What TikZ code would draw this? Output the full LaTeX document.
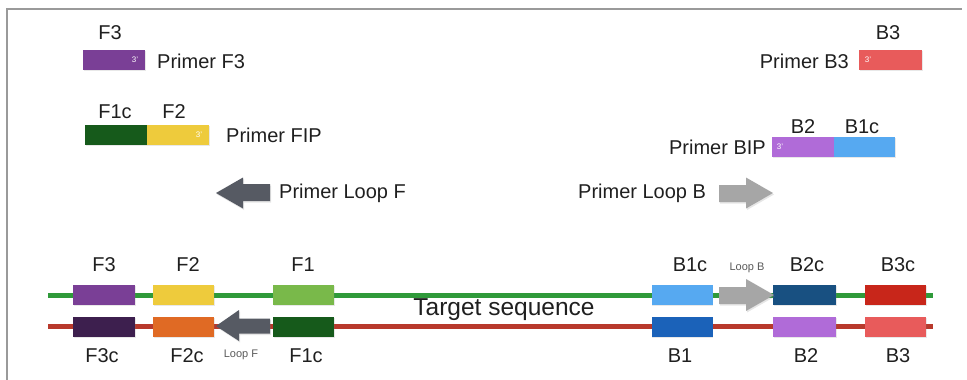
\documentclass[tikz,border=0pt]{standalone}
\usepackage{fontspec}
\setmainfont{Liberation Sans}
\usetikzlibrary{shadows}
\definecolor{cFthree}{HTML}{7A3F96}
\definecolor{cFonec}{HTML}{165A1B}
\definecolor{cFtwo}{HTML}{EECB3C}
\definecolor{cBthree}{HTML}{E85B5B}
\definecolor{cBtwo}{HTML}{B06BD8}
\definecolor{cBonec}{HTML}{56A9F1}
\definecolor{cArrD}{HTML}{565A63}
\definecolor{cArrL}{HTML}{A6A6A6}
\definecolor{cGreen}{HTML}{2F9A3A}
\definecolor{cRed}{HTML}{B8392C}
\definecolor{cFthreec}{HTML}{3D1F4E}
\definecolor{cFtwoc}{HTML}{E06A24}
\definecolor{cFone}{HTML}{79B94A}
\definecolor{cBone}{HTML}{1B62B9}
\definecolor{cBtwoc}{HTML}{185081}
\definecolor{cBthreec}{HTML}{C8261A}
\definecolor{cFrame}{HTML}{9A9A9A}
\begin{document}
\begin{tikzpicture}[x=1pt,y=-1pt,
  lbl/.style={font=\fontsize{20}{23}\selectfont, inner sep=0pt, text=black!88},
  big/.style={font=\fontsize{24.5}{28}\selectfont, inner sep=0pt, text=black!88},
  small/.style={font=\fontsize{11}{12}\selectfont, inner sep=0pt, text=black!65},
  seg/.style={inner sep=0pt, minimum height=20pt, drop shadow={opacity=0.18,shadow xshift=0.8pt,shadow yshift=-1.2pt}},
  prime/.style={font=\fontsize{8}{9}\selectfont, text=white, inner sep=0pt},
  strand/.style={line width=5pt},
  arrowshape/.style={drop shadow={opacity=0.2,shadow xshift=1pt,shadow yshift=-1.5pt}}
  ]
\useasboundingbox (0,0) rectangle (967,380);
% frame
\coordinate (frBL) at (7,380);
\coordinate (frTL) at (7,9);
\coordinate (frTR) at (962,9);
\draw[cFrame, line width=1.2pt] (frBL) -- (frTL) -- (frTR);

% ---- primers, top left
\node[lbl] (tF3) at (110,33) {F3};
\node[seg, fill=cFthree, minimum width=62pt] (pF3) at (114,60) {};
\node[prime] (pF3p) at (135,60) {3'};
\node[lbl, anchor=west] (nF3) at (157,61) {Primer F3};

\node[lbl] (tF1c) at (115,112) {F1c};
\node[lbl] (tF2) at (174,112) {F2};
\node[seg, fill=cFonec, minimum width=62pt] (pF1c) at (116,135) {};
\node[seg, fill=cFtwo, minimum width=62pt] (pF2) at (178,135) {};
\node[prime] (pF2p) at (199,135) {3'};
\node[lbl, anchor=west] (nFIP) at (226,135) {Primer FIP};

% Loop F primer arrow (top)
\fill[cArrD, arrowshape] (216,193) -- (243,177.5) -- (243,184) -- (270,184) -- (270,201) -- (243,201) -- (243,208.5) -- cycle;
\node[lbl, anchor=west] (nLF) at (279,193) {Primer Loop F};

% ---- primers, top right
\node[lbl] (tB3) at (888,33) {B3};
\node[seg, fill=cBthree, minimum width=63pt] (pB3) at (890.5,60) {};
\node[prime] (pB3p) at (868,60) {3'};
\node[lbl, anchor=east] (nB3) at (849,61) {Primer B3};

\node[lbl] (tB2) at (803,127) {B2};
\node[lbl] (tB1c) at (862,127) {B1c};
\node[seg, fill=cBtwo, minimum width=62pt] (pB2) at (803,147) {};
\node[seg, fill=cBonec, minimum width=61pt] (pB1c) at (864.5,147) {};
\node[prime] (pB2p) at (780,147) {3'};
\node[lbl, anchor=east] (nBIP) at (766,147) {Primer BIP};

% Loop B primer arrow (top)
\node[lbl, anchor=west] (nLB) at (578,193) {Primer Loop B};
\fill[cArrL, arrowshape] (773,193) -- (746,177.5) -- (746,185) -- (719,185) -- (719,202) -- (746,202) -- (746,208.5) -- cycle;

% ---- target strands
\coordinate (gL) at (48,295);
\coordinate (gR) at (933,295);
\coordinate (rL) at (48,326);
\coordinate (rR) at (933,326);
\draw[cGreen, strand] (gL) -- (gR);
\draw[cRed, strand] (rL) -- (rR);

% top strand segments
\node[seg, fill=cFthree, minimum width=62pt] (sF3) at (104,295) {};
\node[seg, fill=cFtwo, minimum width=61pt] (sF2) at (183.5,295) {};
\node[seg, fill=cFone, minimum width=61pt] (sF1) at (303.5,295) {};
\node[seg, fill=cBonec, minimum width=61pt] (sB1c) at (682,295) {};
\node[seg, fill=cBtwoc, minimum width=63pt] (sB2c) at (804.5,295) {};
\node[seg, fill=cBthreec, minimum width=61pt] (sB3c) at (895.5,295) {};
% bottom strand segments
\node[seg, fill=cFthreec, minimum width=62pt] (sF3c) at (104,326.5) {};
\node[seg, fill=cFtwoc, minimum width=61pt] (sF2c) at (183.5,326.5) {};
\node[seg, fill=cFonec, minimum width=61pt] (sF1c) at (303.5,326.5) {};
\node[seg, fill=cBone, minimum width=61pt] (sB1) at (682,326.5) {};
\node[seg, fill=cBtwo, minimum width=63pt] (sB2) at (804.5,326.5) {};
\node[seg, fill=cBthree, minimum width=61pt] (sB3) at (895.5,326.5) {};

% labels top
\node[lbl] (lF3) at (104,265) {F3};
\node[lbl] (lF2) at (188,265) {F2};
\node[lbl] (lF1) at (303,265) {F1};
\node[lbl] (lB1c) at (690,265) {B1c};
\node[lbl] (lB2c) at (807,265) {B2c};
\node[lbl] (lB3c) at (898,265) {B3c};
% labels bottom
\node[lbl] (lF3c) at (102,356) {F3c};
\node[lbl] (lF2c) at (187,356) {F2c};
\node[lbl] (lF1c) at (306,356) {F1c};
\node[lbl] (lB1) at (680,356) {B1};
\node[lbl] (lB2) at (806,356) {B2};
\node[lbl] (lB3) at (898,356) {B3};

% loop arrows on strands
\fill[cArrD, arrowshape] (216,326) -- (239,310) -- (239,318.5) -- (270,318.5) -- (270,333.5) -- (239,333.5) -- (239,341) -- cycle;
\node[small] (lLF) at (241,355) {Loop F};
\fill[cArrL, arrowshape] (774,295) -- (746,279) -- (746,287) -- (719,287) -- (719,304) -- (746,304) -- (746,311) -- cycle;
\node[small] (lLB) at (747,268) {Loop B};

\node[big] (tgt) at (504,310) {Target sequence};
\end{tikzpicture}
\end{document}
